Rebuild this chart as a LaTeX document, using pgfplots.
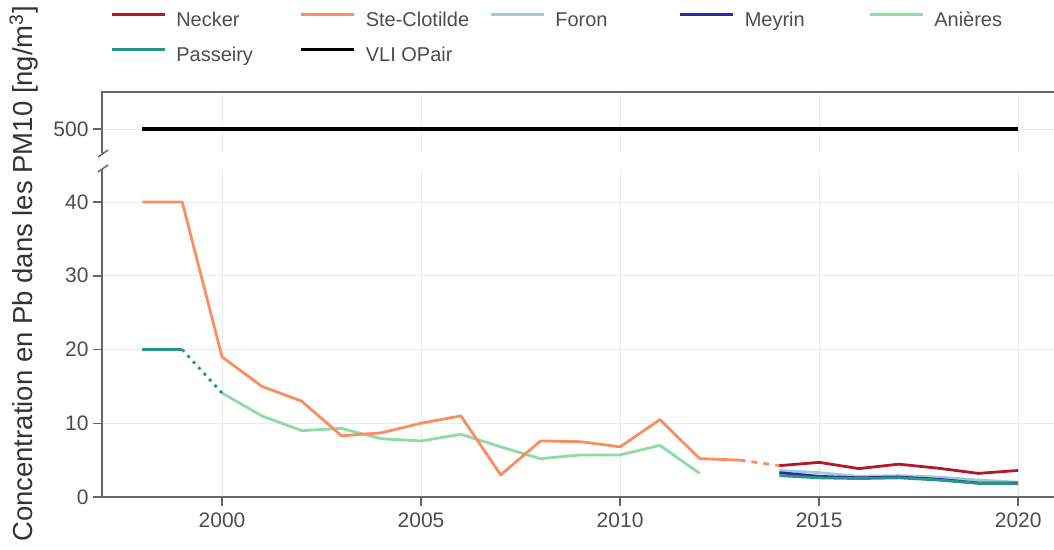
\documentclass[border=0pt]{standalone}
\usepackage{pgfplots}
\pgfplotsset{compat=1.18}
\usepackage{fontspec}
\setmainfont{Liberation Sans}
\definecolor{cNecker}{HTML}{B2182B}
\definecolor{cSte}{HTML}{FC8D62}
\definecolor{cForon}{HTML}{9ECAE1}
\definecolor{cMeyrin}{HTML}{2828A8}
\definecolor{cAnieres}{HTML}{8EDBA3}
\definecolor{cPass}{HTML}{2A9583}
\definecolor{axisgray}{HTML}{666666}
\definecolor{gridgray}{HTML}{EBEBEB}
\definecolor{textgray}{HTML}{4D4D4D}
\begin{document}
\begin{tikzpicture}
\useasboundingbox (0pt,0pt) rectangle (1054pt,549pt);
\pgfplotsset{
  common/.style={
    scale only axis, anchor=south west,
    width=952pt, xmin=1996.985, xmax=2020.9,
    axis line style={draw=none},
    tick align=outside, tick pos=left,
    major tick length=9pt,
    tick style={line width=1.5pt, color=axisgray},
    grid=major, major grid style={line width=0.9pt, color=gridgray},
    xtick={2000,2005,2010,2015,2020},
    ticklabel style={font=\fontsize{21}{25}\selectfont, text=textgray},
    yticklabel style={xshift=-1pt},
    xticklabel style={yshift=-3pt},
    /pgf/number format/assume math mode=true,
    /pgf/number format/1000 sep={},
  },
  every axis plot/.append style={line width=2.8pt, line join=round},
}
% upper panel
\begin{axis}[common, at={(102pt,396pt)}, height=61pt, ymin=476, ymax=537,
  ytick={500}, xticklabels={}, x tick style={draw=none}]
\addplot[black, line width=3.2pt] coordinates {(1998,500) (2020,500)};
\end{axis}
% lower panel
\begin{axis}[common, at={(102pt,52pt)}, height=327pt, ymin=0, ymax=44.34,
  ytick={0,10,20,30,40},
  legend columns=5,
  legend style={draw=none, fill=none, inner sep=0pt,
    at={(0.0085,1.4826)}, anchor=north west,
    font=\fontsize{20}{24}\selectfont, text=textgray,
    row sep=17pt,
    /tikz/every odd column/.style={column sep=10pt},
    /tikz/every even column/.style={column sep=0pt},
    nodes={inner sep=0pt, text height=14pt, text depth=4pt}},
  legend image code/.code={\draw[#1] (0pt,7pt) -- (53pt,7pt);},
]
\addplot[cAnieres, forget plot] coordinates {(2000,14.1) (2001,11) (2002,9) (2003,9.3) (2004,7.9) (2005,7.6) (2006,8.5) (2007,6.8) (2008,5.2) (2009,5.7) (2010,5.7) (2011,7.0) (2012,3.2)};
\addplot[cSte, forget plot] coordinates {(1998,40) (1999,40) (2000,19) (2001,15) (2002,13) (2003,8.3) (2004,8.7) (2005,10) (2006,11) (2007,3.0) (2008,7.6) (2009,7.5) (2010,6.8) (2011,10.5) (2012,5.2) (2013,5.0)};
\addplot[cSte, forget plot, dash pattern=on 6pt off 6pt] coordinates {(2013,5.0) (2014,4.25)};
\addplot[cPass, forget plot] coordinates {(1998,20) (1999,20)};
\addplot[cPass, forget plot, dash pattern=on 3pt off 5pt] coordinates {(1999,20) (2000,14.1)};
\addplot[cForon, forget plot] coordinates {(2014,3.6) (2015,3.3) (2016,2.8) (2017,2.9) (2018,2.7) (2019,2.3) (2020,2.0)};
\addplot[cMeyrin, forget plot] coordinates {(2014,3.3) (2015,2.8) (2016,2.6) (2017,2.7) (2018,2.4) (2019,1.9) (2020,1.9)};
\addplot[cPass, forget plot] coordinates {(2014,2.9) (2015,2.6) (2016,2.5) (2017,2.6) (2018,2.3) (2019,1.85) (2020,1.8)};
\addplot[cNecker, forget plot] coordinates {(2014,4.25) (2015,4.7) (2016,3.85) (2017,4.45) (2018,3.9) (2019,3.2) (2020,3.6)};
\addlegendimage{cNecker, line width=3pt}
\addlegendentry{\makebox[123.5pt][l]{Necker}}
\addlegendimage{cSte, line width=3pt}
\addlegendentry{\makebox[123.5pt][l]{Ste-Clotilde}}
\addlegendimage{cForon, line width=3pt}
\addlegendentry{\makebox[123.5pt][l]{Foron}}
\addlegendimage{cMeyrin, line width=3pt}
\addlegendentry{\makebox[123.5pt][l]{Meyrin}}
\addlegendimage{cAnieres, line width=3pt}
\addlegendentry{\makebox[123.5pt][l]{Anières}}
\addlegendimage{cPass, line width=3pt}
\addlegendentry{\makebox[123.5pt][l]{Passeiry}}
\addlegendimage{black, line width=3pt}
\addlegendentry{\makebox[123.5pt][l]{VLI OPair}}
\end{axis}
% axis lines
\draw[axisgray, line width=1.5pt] (102pt,52pt) -- (1054pt,52pt);
\draw[axisgray, line width=1.5pt] (102pt,52pt) -- (102pt,379pt);
\draw[axisgray, line width=1.5pt] (102pt,396pt) -- (102pt,457pt) -- (1054pt,457pt);
\draw[axisgray, line width=1.5pt] (98pt,392pt) -- (108pt,399pt);
\draw[axisgray, line width=1.5pt] (98pt,377pt) -- (108pt,384pt);
\node[rotate=90, anchor=base, font=\fontsize{27.5}{32}\selectfont, text=black!80] at (32pt,275pt) {Concentration en Pb dans les PM10 [ng/m\textsuperscript{3}]};
\end{tikzpicture}
\end{document}
